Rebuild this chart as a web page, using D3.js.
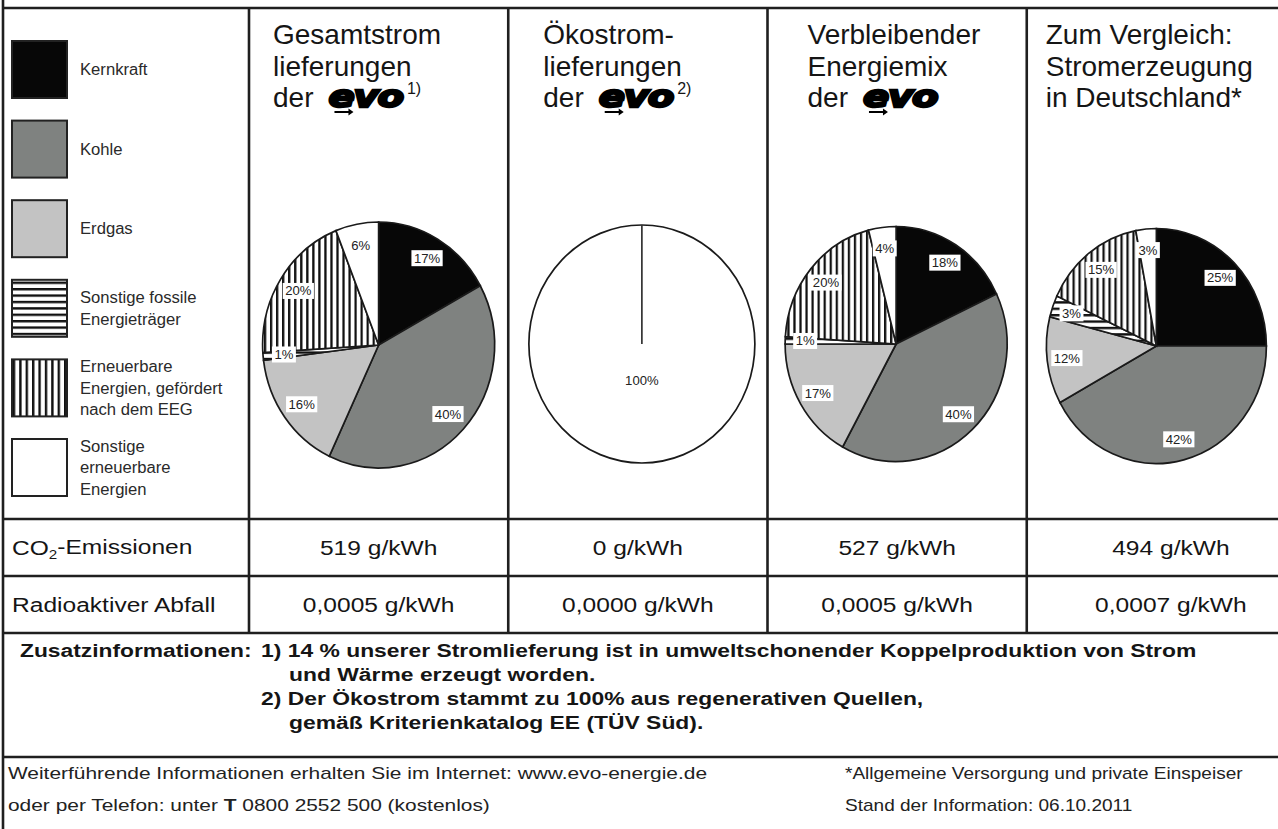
<!DOCTYPE html>
<html><head><meta charset="utf-8">
<script src="https://cdn.jsdelivr.net/npm/d3@7"></script>
<style>body{margin:0;background:#fff}svg{display:block}</style>
</head><body>
<script>
// ---------- DATA ----------
const categories = ["Kernkraft","Kohle","Erdgas","Sonstige fossile Energieträger","Erneuerbare Energien, gefördert nach dem EEG","Sonstige erneuerbare Energien"];
const legendLines = [["Kernkraft"],["Kohle"],["Erdgas"],["Sonstige fossile","Energieträger"],["Erneuerbare","Energien, gefördert","nach dem EEG"],["Sonstige","erneuerbare","Energien"]];
const columnTitles = [["Gesamtstrom","lieferungen","der"],["Ökostrom-","lieferungen","der"],["Verbleibender","Energiemix","der"],["Zum Vergleich:","Stromerzeugung","in Deutschland*"]];
const columnHasLogo = [true,true,true,false];
const columnFootnotes = ["1)","2)","",""];
const sharesGesamt = [17,40,16,1,20,6];
const sharesOeko = [0,0,0,0,0,100];
const sharesVerbleibend = [18,40,17,1,20,4];
const sharesDeutschland = [25,42,12,3,15,3];
const co2Values = [519,0,527,494];
const wasteValues = [0.0005,0.0000,0.0005,0.0007];
const rowLabels = ["CO2-Emissionen","Radioaktiver Abfall"];
const unit = "g/kWh";
const noteLead = "Zusatzinformationen:";
const noteLines = [["1) 14 % unserer Stromlieferung ist in umweltschonender Koppelproduktion von Strom",0],["und Wärme erzeugt worden.",1],["2) Der Ökostrom stammt zu 100% aus regenerativen Quellen,",0],["gemäß Kriterienkatalog EE (TÜV Süd).",1]];
const footerLeft = ["Weiterführende Informationen erhalten Sie im Internet: www.evo-energie.de", "oder per Telefon: unter |T| 0800 2552 500 (kostenlos)"];
const footerRight = ["*Allgemeine Versorgung und private Einspeiser","Stand der Information: 06.10.2011"];

// ---------- STYLE / LAYOUT ----------
const W = 1278, H = 829;
const fills = ["#070707","#7f8280","#c3c3c3","url(#hstripe)","url(#vstripe)","#ffffff"];
const FONT = "'Liberation Sans', Arial, sans-serif";
const lineColor = "#1f1f1f";
const pieSets = [sharesGesamt, sharesOeko, sharesVerbleibend, sharesDeutschland];
const pieRadii = [[116,123],[113,119],[111,117.5],[110,117.5]];
const pieCY = [345,344,344,346];
const pieDX = [0,4,-1,0];
const titleOffset = [24,35,40,19];

const svg = d3.select("body").append("svg").attr("width",W).attr("height",H);
const defs = svg.append("defs");
const hp = defs.append("pattern").attr("id","hstripe").attr("patternUnits","userSpaceOnUse").attr("width",10).attr("height",6.4);
hp.append("rect").attr("width",10).attr("height",6.4).attr("fill","#fff");
hp.append("rect").attr("width",10).attr("height",2.4).attr("fill","#111");
const vp = defs.append("pattern").attr("id","vstripe").attr("patternUnits","userSpaceOnUse").attr("width",6.4).attr("height",10);
vp.append("rect").attr("width",6.4).attr("height",10).attr("fill","#fff");
vp.append("rect").attr("width",2.4).attr("height",10).attr("fill","#111");

function txt(parent, x, y, str, o) {
  o = Object.assign({fs:16, sx:1, anchor:"start", weight:"normal", fill:"#151515", dy:null}, o||{});
  const g = parent.append("g").attr("transform",`translate(${x},${y}) scale(${o.sx},1)`);
  const t = g.append("text").attr("font-family",FONT).attr("font-size",o.fs)
    .attr("text-anchor",o.anchor).attr("font-weight",o.weight).attr("fill",o.fill);
  if (o.dy) t.attr("dy",o.dy);
  if (str !== null) t.text(str);
  return t;
}

// columns
const colScale = d3.scaleBand().domain(d3.range(4)).range([249,1286]).padding(0);
const tableRight = 1315;
const colEdges = [...d3.range(4).map(i=>colScale(i)), tableRight];

// ---------- FRAME ----------
const frame = svg.append("g").attr("stroke",lineColor).attr("stroke-width",2.6);
frame.append("line").attr("x1",3).attr("x2",3).attr("y1",0).attr("y2",H);
[8,519,576,633,757].forEach(y=>frame.append("line").attr("x1",3).attr("x2",W).attr("y1",y).attr("y2",y));
d3.range(4).forEach(i=>frame.append("line").attr("x1",colScale(i)).attr("x2",colScale(i)).attr("y1",8).attr("y2",633));

// ---------- LEGEND ----------
const leg = svg.append("g");
categories.forEach((c,i)=>{
  const y0 = 41 + i*79.6;
  leg.append("rect").attr("x",12).attr("y",y0).attr("width",55).attr("height",57)
    .attr("fill",fills[i]).attr("stroke","#222").attr("stroke-width",2);
  const lines = legendLines[i];
  const lh = 21.5, cy = y0 + 28.5 - (lines.length-1)*lh/2;
  lines.forEach((l,j)=>txt(leg, 80, cy + j*lh, l, {fs:16, sx:1.04, dy:"0.35em", fill:"#2a2a2a"}));
});

// ---------- HEADERS ----------
const head = svg.append("g");
columnTitles.forEach((lines,i)=>{
  const x = colScale(i) + titleOffset[i];
  lines.forEach((l,j)=>{
    const t = txt(head, x, 44 + j*31.5, l, {fs:28});
    if (j===2 && columnHasLogo[i]) {
      const w = t.node().getComputedTextLength();
      const lx = x + w + 15, ly = 44 + j*31.5;
      const lg = head.append("g").attr("transform",`translate(${lx},${ly})`);
      lg.append("text").attr("font-family","'DejaVu Sans', sans-serif").attr("font-weight","bold")
        .attr("font-style","italic").attr("font-size",31).attr("fill","#000")
        .attr("stroke","#000").attr("stroke-width",2.4).attr("transform","scale(1.25,1)")
        .attr("letter-spacing",-1).text("evo");
      // arrow under e
      lg.append("path").attr("d","M6,4 L20,4 L20,1.5 L25,5 L20,8.5 L20,6 L6,6 Z").attr("fill","#000");
      const lw = lg.node().getBBox().width;
      if (columnFootnotes[i]) txt(head, lx + lw + 4, ly - 13, columnFootnotes[i], {fs:16});
    }
  });
});

// ---------- PIES ----------
const pieGen = d3.pie().sort(null).value(d=>d);
pieSets.forEach((vals,i)=>{
  const [rx,ry] = pieRadii[i];
  const cx = colScale(i) + colScale.bandwidth()/2 + pieDX[i], cy = pieCY[i];
  const arcs = pieGen(vals).map((d,k)=>Object.assign(d,{k})).filter(d=>d.value>0);
  const g = svg.append("g").attr("transform",`translate(${cx},${cy}) scale(${rx/ry},1)`);
  const arc = d3.arc().innerRadius(0).outerRadius(ry);
  g.selectAll("path").data(arcs).join("path").attr("d",arc).attr("fill",d=>fills[d.k])
    .attr("stroke","#1a1a1a").attr("stroke-width",1.7).attr("vector-effect","non-scaling-stroke");
  arcs.filter(d=>d.endAngle-d.startAngle>2*Math.PI-1e-6).forEach(d=>{
    g.append("line").attr("x1",0).attr("y1",0).attr("x2",Math.sin(d.startAngle)*ry).attr("y2",-Math.cos(d.startAngle)*ry)
      .attr("stroke","#333").attr("stroke-width",1.7).attr("vector-effect","non-scaling-stroke");
  });
  const lab = svg.append("g");
  arcs.forEach(d=>{
    const full = d.endAngle-d.startAngle>2*Math.PI-1e-6;
    const r = full ? 0.31*ry : 0.82*ry;
    const c = d3.arc().innerRadius(r).outerRadius(r).centroid(d);
    const px = cx + c[0]*rx/ry, py = cy + c[1];
    const s = d.value + "%";
    const t = txt(lab, px, py, s, {fs:12.5, sx:1.05, anchor:"middle", dy:"0.36em", fill:"#222"});
    const bw = t.node().getComputedTextLength()*1.05 + 5;
    if (!full) lab.insert("rect", ":first-child").attr("x",px-bw/2).attr("y",py-8).attr("width",bw).attr("height",16).attr("fill","#fff");
  });
});

// ---------- TABLE ----------
const tab = svg.append("g");
const fmtWaste = d3.formatLocale({decimal:",",thousands:".",grouping:[3],currency:["","€"]}).format(".4f");
const rowsY = [547.5, 604.5];
{
  const t = txt(tab, 12, rowsY[0], null, {fs:21, sx:1.17, dy:"0.35em"});
  t.append("tspan").text("CO");
  t.append("tspan").attr("font-size",13).attr("dy","0.35em").text("2");
  t.append("tspan").attr("dy","-0.27em").text("-Emissionen");
  txt(tab, 12, rowsY[1], rowLabels[1], {fs:21, sx:1.17, dy:"0.35em"});
}
d3.range(4).forEach(i=>{
  const cx = (colEdges[i]+colEdges[i+1])/2;
  txt(tab, cx, rowsY[0], `${co2Values[i]} ${unit}`, {fs:21, sx:1.17, anchor:"middle", dy:"0.35em"});
  txt(tab, cx, rowsY[1], `${fmtWaste(wasteValues[i])} ${unit}`, {fs:21, sx:1.17, anchor:"middle", dy:"0.35em"});
});

// ---------- NOTES ----------
const notes = svg.append("g");
txt(notes, 20, 650, noteLead, {fs:19, sx:1.2, weight:"bold", dy:"0.35em"});
noteLines.forEach((n,j)=>{
  txt(notes, n[1] ? 289 : 261, 650 + j*24, n[0], {fs:19, sx:1.205, weight:"bold", dy:"0.35em"});
});

// ---------- FOOTER ----------
const foot = svg.append("g");
footerLeft.forEach((s,j)=>{
  const t = txt(foot, 8, 773 + j*32, null, {fs:17, sx:1.23, dy:"0.35em", fill:"#222"});
  s.split("|").forEach((part,k)=>t.append("tspan").attr("font-weight",k===1?"bold":"normal").text(part));
});
footerRight.forEach((s,j)=>txt(foot, 845, 773 + j*32, s, {fs:17, sx:1.12, dy:"0.35em", fill:"#222"}));
</script>
</body></html>
